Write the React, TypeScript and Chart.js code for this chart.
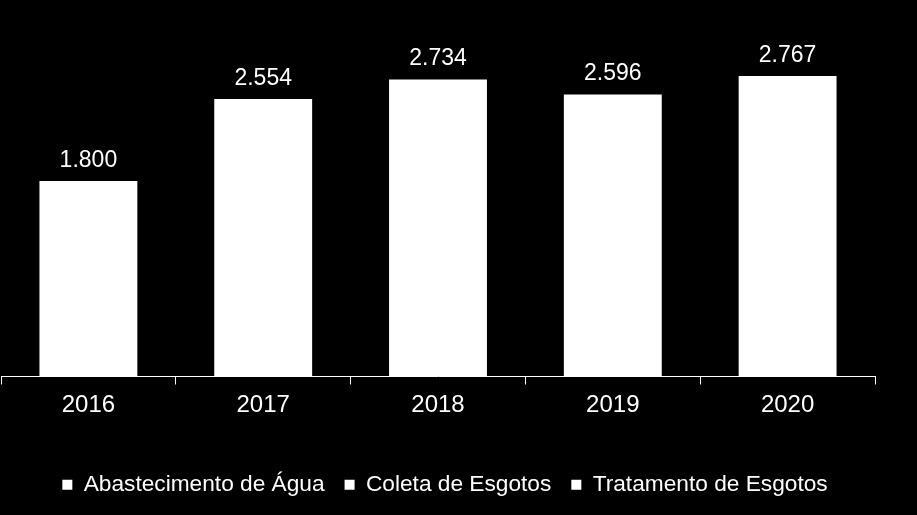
import React, { useEffect, useRef } from "react";
import { Chart, registerables } from "chart.js";

Chart.register(...registerables);

const categories = ["2016", "2017", "2018", "2019", "2020"];
const seriesNames = ["Abastecimento de Água", "Coleta de Esgotos", "Tratamento de Esgotos"];
const totals = [1800, 2554, 2734, 2596, 2767];
const coletaValues: (number | null)[] = [null, null, null, null, null];
const tratamentoValues: (number | null)[] = [null, null, null, null, null];

const FONT = "'Liberation Sans', Arial, sans-serif";

function fmt(v: number): string {
  const s = Math.round(v).toString();
  return s.replace(/\B(?=(\d{3})+(?!\d))/g, ".");
}

const labelPlugin = {
  id: "totalLabels",
  afterLayout(chart: any) {
    if (chart.legend) {
      chart.legend.left += 7;
      chart.legend.right += 7;
    }
  },
  afterDatasetsDraw(chart: any) {
    const ctx = chart.ctx;
    const meta = chart.getDatasetMeta(0);
    ctx.save();
    ctx.fillStyle = "#ffffff";
    ctx.font = `23px ${FONT}`;
    ctx.textAlign = "center";
    ctx.textBaseline = "alphabetic";
    meta.data.forEach((bar: any, i: number) => {
      const total = totals[i];
      const y = chart.scales.y.getPixelForValue(total);
      ctx.fillText(fmt(total), bar.x, y - 14);
    });
    ctx.restore();
  },
};

export default function App() {
  const ref = useRef<HTMLCanvasElement | null>(null);
  useEffect(() => {
    if (!ref.current) return;
    const chart = new Chart(ref.current, {
      type: "bar",
      data: {
        labels: categories,
        datasets: [
          { label: seriesNames[0], data: totals, backgroundColor: "#ffffff", borderWidth: 0 },
          { label: seriesNames[1], data: coletaValues, backgroundColor: "#ffffff", borderWidth: 0 },
          { label: seriesNames[2], data: tratamentoValues, backgroundColor: "#ffffff", borderWidth: 0 },
        ],
      },
      options: {
        animation: false,
        responsive: false,
        maintainAspectRatio: false,
        datasets: { bar: { categoryPercentage: 1, barPercentage: 0.56 } },
        layout: { padding: { left: 1, right: 42, top: 18, bottom: 9 } },
        plugins: {
          tooltip: { enabled: false },
          legend: {
            display: true,
            position: "bottom",
            labels: {
              color: "#ffffff",
              boxWidth: 10,
              boxHeight: 10,
              padding: 20,
              font: { family: FONT, size: 22.7 },
            },
          },
        },
        scales: {
          x: {
            stacked: true,
            offset: true,
            afterFit(scale: any) {
              scale.height += 28;
            },
            grid: {
              display: true,
              offset: true,
              drawOnChartArea: false,
              drawTicks: true,
              tickLength: 8,
              color: "#ffffff",
              lineWidth: 1,
            },
            border: { display: true, color: "#ffffff", width: 1 },
            ticks: {
              color: "#ffffff",
              font: { family: FONT, size: 24 },
              padding: 6,
            },
          },
          y: {
            stacked: true,
            display: false,
            min: 0,
            max: 3300,
          },
        },
      },
      plugins: [labelPlugin],
    });
    return () => chart.destroy();
  }, []);
  return (
    <div style={{ position: "fixed", left: 0, top: 0, width: 917, height: 515, background: "#000" }}>
      <canvas ref={ref} width={917} height={515} style={{ display: "block" }} />
    </div>
  );
}
